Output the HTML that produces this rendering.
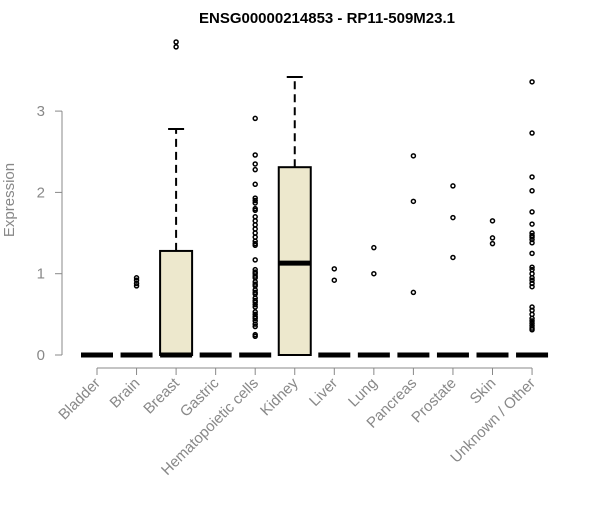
<!DOCTYPE html>
<html><head><meta charset="utf-8"><style>
body{margin:0;background:#fff;font-family:"Liberation Sans",Arial,sans-serif}
svg text{font-family:"Liberation Sans",Arial,sans-serif}
</style></head><body>
<svg id="chart" width="600" height="500" xmlns="http://www.w3.org/2000/svg">
<text x="327" y="23" text-anchor="middle" font-size="15" font-weight="bold">ENSG00000214853 - RP11-509M23.1</text>
<text transform="translate(14,200) rotate(-90)" text-anchor="middle" font-size="15" fill="#888">Expression</text>
<g id="axes"></g><g id="marks"></g>
</svg>
<script>
const categories=["Bladder","Brain","Breast","Gastric","Hematopoietic cells","Kidney","Liver","Lung","Pancreas","Prostate","Skin","Unknown / Other"];
const q1=[0,0,0,0,0,0,0,0,0,0,0,0];
const medians=[0,0,0,0,0,1.13,0,0,0,0,0,0];
const q3=[0,0,1.28,0,0,2.31,0,0,0,0,0,0];
const whiskerHigh=[0,0,2.78,0,0,3.42,0,0,0,0,0,0];
const outliers=[[],[0.85,0.88,0.92,0.95],[3.79,3.85],[],
[2.91,2.46,2.35,2.28,2.1,1.93,1.9,1.87,1.8,1.78,1.7,1.65,1.6,1.55,1.5,1.45,1.4,1.37,1.35,1.17,1.05,1.02,1.0,0.97,0.95,0.9,0.87,0.85,0.8,0.77,0.75,0.7,0.67,0.65,0.62,0.59,0.53,0.5,0.47,0.45,0.42,0.38,0.35,0.25,0.23],
[],[1.06,0.92],[1.32,1.0],[2.45,1.89,0.77],[2.08,1.69,1.2],[1.65,1.44,1.37],
[3.36,2.73,2.19,2.02,1.76,1.61,1.5,1.47,1.45,1.42,1.38,1.25,1.08,1.05,1.0,0.95,0.92,0.88,0.84,0.59,0.55,0.5,0.45,0.42,0.39,0.36,0.33,0.31]];
const yTicks=[0,1,2,3];
const NS="http://www.w3.org/2000/svg";
const y=v=>355-v*81.3;
const x=i=>97+i*39.55;
const axes=document.getElementById('axes'),marks=document.getElementById('marks');
function mk(p,t,a){const e=document.createElementNS(NS,t);for(const k in a)e.setAttribute(k,a[k]);p.appendChild(e);return e;}
let l=mk(axes,'line',{x1:62,x2:62,y1:y(3),y2:y(0),stroke:'#888'});


yTicks.forEach(t=>{
 const tk=mk(axes,'line',{x1:55,x2:62,y1:y(t),y2:y(t),stroke:'#888'});
 
 
 const tx=mk(axes,'text',{x:45,y:y(t)+5,'text-anchor':'end','font-size':15,fill:'#888'});
 tx.textContent=t;
 
 
});
l=mk(axes,'line',{x1:x(0),x2:x(11),y1:368,y2:368,stroke:'#888'});


categories.forEach((c,i)=>{
 const cx=x(i);
 const tk=mk(axes,'line',{x1:cx,x2:cx,y1:368,y2:375,stroke:'#888'});
 
 
 const tx=mk(axes,'text',{transform:`translate(${cx+4},${384}) rotate(-45)`,'text-anchor':'end','font-size':15,fill:'#888'});
 tx.textContent=c;
 
 
 const g=mk(marks,'g',{});
 
 
 const hw=16;
 if(whiskerHigh[i]>q3[i]){
  mk(g,'line',{x1:cx,x2:cx,y1:y(q3[i]),y2:y(whiskerHigh[i]),stroke:'#000','stroke-width':2,'stroke-dasharray':'8,5'});
  mk(g,'line',{x1:cx-8,x2:cx+8,y1:y(whiskerHigh[i]),y2:y(whiskerHigh[i]),stroke:'#000','stroke-width':2});
 }
 if(q3[i]>q1[i]) mk(g,'rect',{x:cx-hw,y:y(q3[i]),width:2*hw,height:y(q1[i])-y(q3[i]),fill:'#ede8cd',stroke:'#000','stroke-width':2});
 mk(g,'line',{x1:cx-hw,x2:cx+hw,y1:y(medians[i]),y2:y(medians[i]),stroke:'#000','stroke-width':5});
 outliers[i].forEach(v=>{
  const p=mk(g,'circle',{cx:cx,cy:y(v),r:2,fill:'none',stroke:'#000','stroke-width':1.5});
  
  
 });
});
</script>
</body></html>
